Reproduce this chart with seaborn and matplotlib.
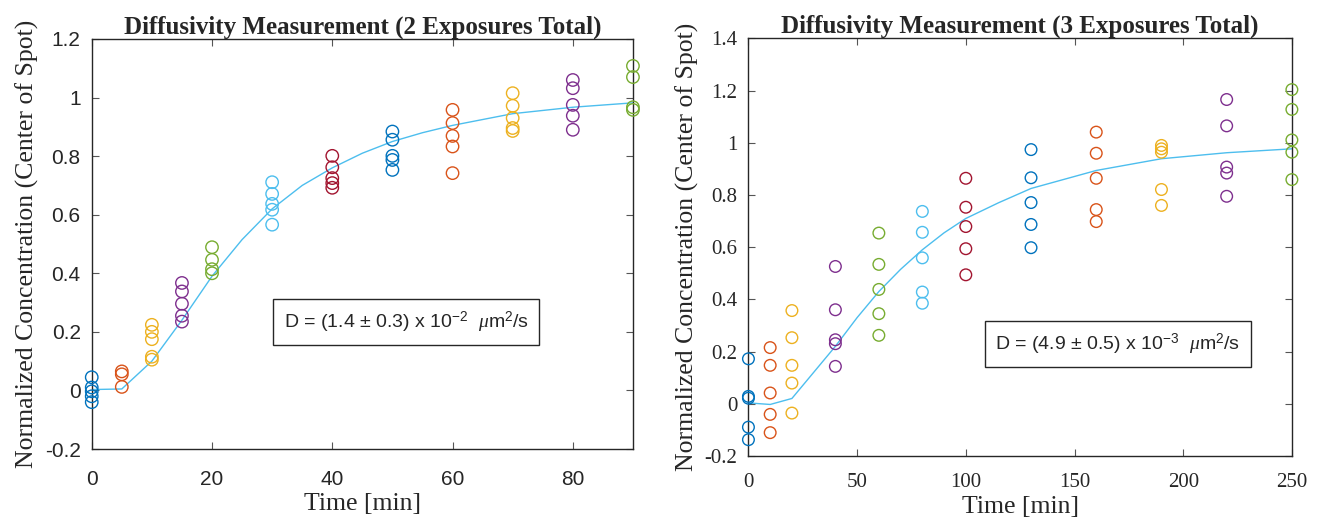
import matplotlib
matplotlib.use('Agg')
import matplotlib.pyplot as plt
import seaborn as sns
import pandas as pd

# measured data, 2 exposures (left)
t_left = [0, 5, 10, 15, 20, 30, 40, 50, 60, 70, 80, 90]
c_left = [
    [0.045, 0.01, -0.003, -0.02, -0.04],
    [0.065, 0.055, 0.012],
    [0.224, 0.2, 0.175, 0.115, 0.105],
    [0.367, 0.338, 0.296, 0.255, 0.235],
    [0.489, 0.446, 0.414, 0.4],
    [0.711, 0.671, 0.637, 0.617, 0.566],
    [0.801, 0.762, 0.725, 0.708, 0.692],
    [0.884, 0.856, 0.801, 0.787, 0.753],
    [0.958, 0.913, 0.869, 0.833, 0.742],
    [1.015, 0.972, 0.93, 0.896, 0.886],
    [1.06, 1.032, 0.975, 0.938, 0.89],
    [1.108, 1.07, 0.967, 0.958],
]
fit_t_left = [0, 5, 10, 15, 20, 25, 30, 35, 40, 45, 50, 55, 60, 70, 80, 90]
fit_c_left = [0.003, 0.005, 0.1, 0.24, 0.39, 0.515, 0.62, 0.70, 0.76, 0.81, 0.85, 0.88, 0.905, 0.945, 0.967, 0.982]

# measured data, 3 exposures (right)
t_right = [0, 10, 20, 40, 60, 80, 100, 130, 160, 190, 220, 250]
c_right = [
    [0.172, 0.028, 0.021, -0.09, -0.138],
    [0.215, 0.147, 0.041, -0.041, -0.111],
    [0.357, 0.253, 0.147, 0.079, -0.036],
    [0.526, 0.36, 0.245, 0.23, 0.143],
    [0.654, 0.534, 0.438, 0.345, 0.262],
    [0.737, 0.657, 0.559, 0.428, 0.385],
    [0.864, 0.753, 0.679, 0.594, 0.494],
    [0.974, 0.866, 0.771, 0.687, 0.598],
    [1.041, 0.96, 0.864, 0.744, 0.698],
    [0.99, 0.977, 0.964, 0.821, 0.76],
    [1.166, 1.065, 0.907, 0.884, 0.795],
    [1.204, 1.128, 1.011, 0.964, 0.859],
]
fit_t_right = [0, 10, 20, 30, 40, 50, 60, 70, 80, 90, 100, 115, 130, 160, 190, 220, 250]
fit_c_right = [0.003, -0.003, 0.02, 0.12, 0.22, 0.33, 0.43, 0.515, 0.59, 0.655, 0.71, 0.77, 0.825, 0.894, 0.939, 0.962, 0.977]

matlab_colors = ['#0072BD', '#D95319', '#EDB120', '#7E2F8E', '#77AC30', '#4DBEEE', '#A2142F']
fit_color = '#4DBEEE'

sns.set_style('ticks')
plt.rcParams['mathtext.fontset'] = 'custom'
plt.rcParams['mathtext.rm'] = 'Liberation Sans'
plt.rcParams['mathtext.it'] = 'Liberation Serif:italic'


def to_frame(times, values):
    rows = []
    for i, (t, vals) in enumerate(zip(times, values)):
        for v in vals:
            rows.append({'time': t, 'conc': v, 'group': i})
    return pd.DataFrame(rows)


def draw_panel(ax, times, values, fit_t, fit_c, title, xticks, yticks, xmax, ymax, label,
               tick_font, box_pos, msize, xpad):
    df = to_frame(times, values)
    palette = {i: matlab_colors[i % 7] for i in range(len(times))}
    sns.lineplot(x=fit_t, y=fit_c, color=fit_color, lw=1, ax=ax)
    sns.scatterplot(data=df, x='time', y='conc', hue='group', palette=palette,
                    s=msize, marker='o', legend=False, ax=ax, clip_on=False, zorder=3)
    # hollow circles like MATLAB
    coll = ax.collections[-1]
    fc = coll.get_facecolors()
    coll.set_edgecolors(fc)
    coll.set_facecolors('none')
    coll.set_linewidth(1.0)

    ax.set_xlim(0, xmax)
    ax.set_ylim(-0.2, ymax)
    ax.set_xticks(xticks)
    ax.set_xticklabels([str(x) for x in xticks], family=tick_font, fontsize=15, color='#262626')
    ax.set_yticks(yticks)
    ax.set_yticklabels(['%g' % y for y in yticks], family=tick_font, fontsize=15, color='#262626')
    ax.tick_params(direction='in', top=True, right=True, length=5, color='#555555')
    ax.tick_params(axis='x', pad=xpad)
    ax.tick_params(axis='y', pad=8)
    for sp in ax.spines.values():
        sp.set_color('#262626')
        sp.set_linewidth(1.0)
    ax.set_title(title, family='Liberation Serif', fontweight='bold', fontsize=18, pad=4)
    ax.set_xlabel('Time [min]', family='Liberation Serif', fontsize=18.5, labelpad=3)
    ax.set_ylabel('Normalized Concentration (Center of Spot)', family='Liberation Serif', fontsize=18.5, labelpad=4)
    ax.text(box_pos[0], box_pos[1], label, transform=ax.transAxes, ha='center', va='center',
            family='Liberation Sans', fontsize=14,
            bbox=dict(boxstyle='square,pad=0.55', fc='white', ec='#262626', lw=1))


fig = plt.figure(figsize=(13.2, 5.27), dpi=100)
ax1 = fig.add_axes([0.0695, 0.148, 0.41, 0.778])
ax2 = fig.add_axes([0.567, 0.135, 0.4117, 0.792])

draw_panel(ax1, t_left, c_left, fit_t_left, fit_c_left,
           'Diffusivity Measurement (2 Exposures Total)',
           [0, 20, 40, 60, 80], [-0.2, 0, 0.2, 0.4, 0.6, 0.8, 1, 1.2], 90, 1.2,
           r'D = (1.4 $\pm$ 0.3) x 10$^{-2}$  $\mu$m$^{2}$/s', 'Liberation Sans', (0.581, 0.31), 80, 15)
draw_panel(ax2, t_right, c_right, fit_t_right, fit_c_right,
           'Diffusivity Measurement (3 Exposures Total)',
           [0, 50, 100, 150, 200, 250], [-0.2, 0, 0.2, 0.4, 0.6, 0.8, 1, 1.2, 1.4], 250, 1.4,
           r'D = (4.9 $\pm$ 0.5) x 10$^{-3}$  $\mu$m$^{2}$/s', 'Liberation Serif', (0.68, 0.268), 70, 12)

fig.savefig('out.png', dpi=100)
